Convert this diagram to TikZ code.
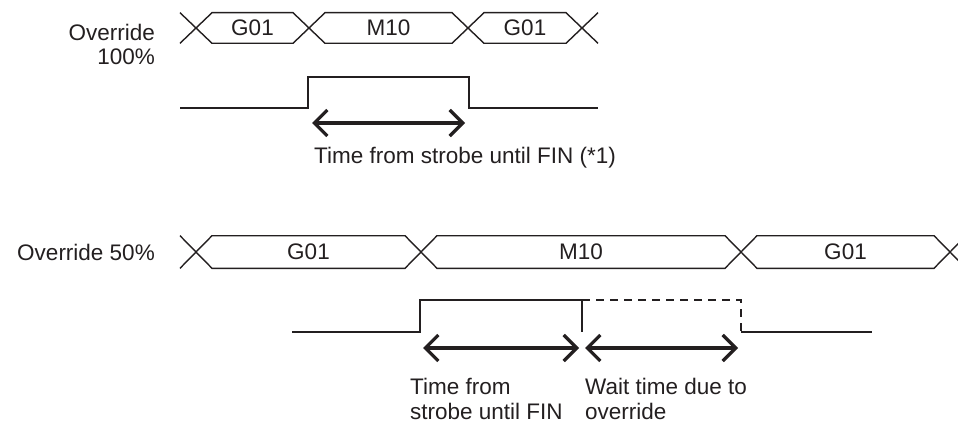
\documentclass[tikz,border=0pt]{standalone}
\usepackage{fontspec}
\setmainfont{Liberation Sans}
\usepackage{tikz}
\usetikzlibrary{arrows.meta, calc}
\definecolor{ink}{HTML}{231F20}

\begin{document}
\begin{tikzpicture}[x=1pt, y=-1pt,
  bus/.style = {draw=ink, line width=1.4pt, line join=miter},
  sig/.style = {draw=ink, line width=1.6pt},
  sigdash/.style = {draw=ink, line width=1.6pt, dash pattern=on 8pt off 6pt},
  arr/.style = {{Straight Barb[length=13pt,width=26pt]}-{Straight Barb[length=13pt,width=26pt]}, line width=3.2pt, color=ink},
  lbl/.style = {font=\fontsize{22.5}{25}\selectfont, text=ink, inner sep=0pt},
]
\useasboundingbox (0,0) rectangle (958,425);
\clip (0,0) rectangle (958,425);

% Override 100%
\foreach \n/\c in {a/196, b/309, c/468, d/582} \coordinate (t\n) at (\c, 28);
\foreach \p/\q in {a/b, b/c, c/d}
  \draw[bus] (t\p) -- ++(16,-15.3) -- ($(t\q)+(-16,-15.3)$) -- (t\q) -- ++(-16,15.3) -- ($(t\p)+(16,15.3)$) -- cycle;
\draw[bus] ($(ta)+(-16,-15.3)$) -- (ta) -- ++(-16,15.3);
\draw[bus] ($(td)+(16,-15.3)$) -- (td) -- ++(16,15.3);
\node[lbl] (g1) at ($(ta)!0.5!(tb)$) {G01};
\node[lbl] (m1) at ($(tb)!0.5!(tc)$) {M10};
\node[lbl] (g2) at ($(tc)!0.5!(td)$) {G01};
\node[lbl, align=right, anchor=north east] (ov1) at (155,24) {Override\\[-1pt]100\%};

\draw[sig] (180,108) -- (308,108) -- (308,77) -- (469,77) -- (469,108) -- (598,108);
\coordinate (s1) at (312,123);
\coordinate (f1) at (465,123);
\draw[arr] (s1) -- (f1);
\node[lbl, anchor=base west] (cap1) at (314,163) {Time from strobe until FIN (*1)};

% Override 50%
\foreach \n/\c in {a/196, b/421, c/741, d/950} \coordinate (b\n) at (\c, 252);
\foreach \p/\q in {a/b, b/c, c/d}
  \draw[bus] (b\p) -- ++(16,-16.3) -- ($(b\q)+(-16,-16.3)$) -- (b\q) -- ++(-16,16.3) -- ($(b\p)+(16,16.3)$) -- cycle;
\draw[bus] ($(ba)+(-16,-16.3)$) -- (ba) -- ++(-16,16.3);
\draw[bus] ($(bd)+(16,-16.3)$) -- (bd) -- ++(16,16.3);
\node[lbl] (g3) at ($(ba)!0.5!(bb)$) {G01};
\node[lbl] (m2) at ($(bb)!0.5!(bc)$) {M10};
\node[lbl] (g4) at ($(bc)!0.5!(bd)$) {G01};
\node[lbl, anchor=base east] (ov2) at (155,260) {Override 50\%};

\draw[sig] (292,332) -- (420,332) -- (420,300) -- (582,300) -- (582,332);
\draw[sigdash] (582,300) -- (741,300) -- (741,332);
\draw[sig] (741,332) -- (872,332);
\coordinate (s2) at (423,348);
\coordinate (f2) at (579,348);
\coordinate (s3) at (585,348);
\coordinate (f3) at (738,348);
\draw[arr] (s2) -- (f2);
\draw[arr] (s3) -- (f3);
\node[lbl, align=left, anchor=north west] (cap2) at (410,378) {Time from\\strobe until FIN};
\node[lbl, align=left, anchor=north west] (cap3) at (585,378) {Wait time due to\\override};
\end{tikzpicture}
\end{document}
